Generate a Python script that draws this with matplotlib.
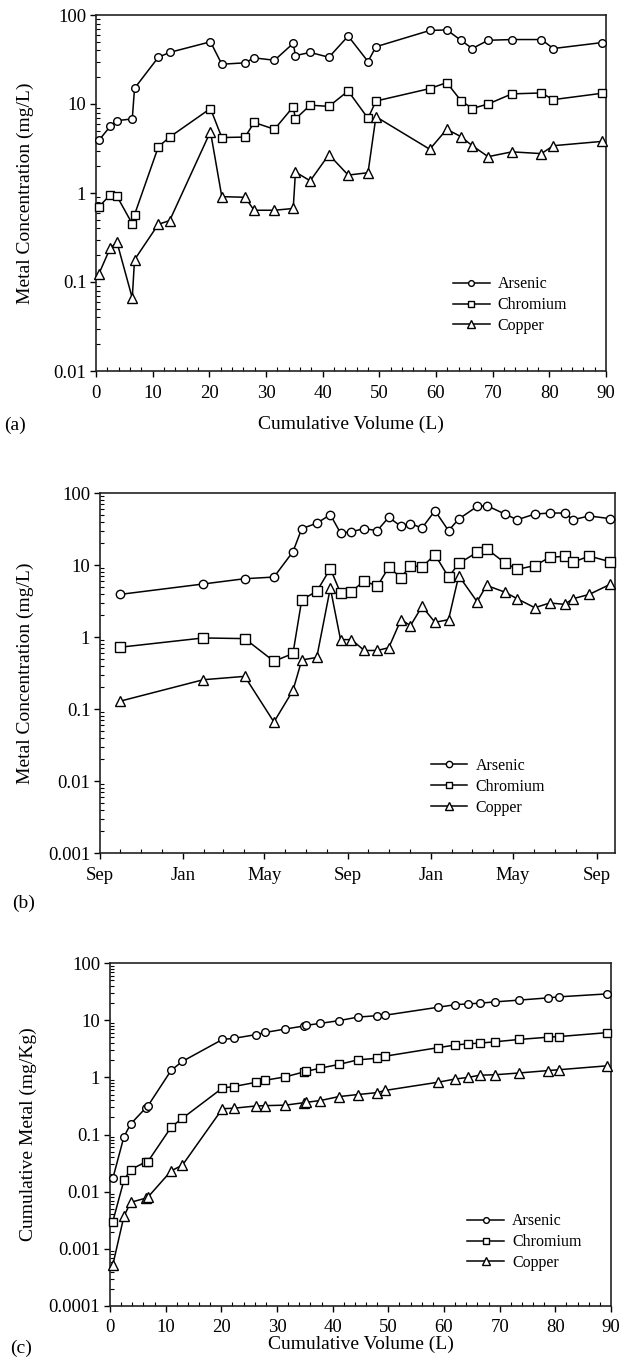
import matplotlib
matplotlib.use("Agg")
import matplotlib.pyplot as plt
import matplotlib.dates as mdates
from matplotlib.ticker import MultipleLocator, LogLocator, FuncFormatter, NullFormatter
import numpy as np
import datetime as dt

# ---------------- data ----------------
series_names = ["Arsenic", "Chromium", "Copper"]

# (a) and (c) cumulative volume (L)
volume_L = [0.5, 2.5, 3.7, 6.4, 6.8, 11.0, 13.0, 20.2, 22.2, 26.3, 27.9, 31.5, 34.8, 35.2,
            37.8, 41.1, 44.5, 48.0, 49.4, 58.9, 61.9, 64.4, 66.4, 69.2, 73.4, 78.6, 80.7, 89.3]

arsenic_conc = [3.9, 5.6, 6.5, 6.8, 15, 33.5, 38, 50, 28, 29, 33, 31, 48, 35,
                38, 33.5, 58, 30, 44, 67, 68, 52, 42, 52, 53, 53, 42, 49]
chromium_conc = [0.70, 0.95, 0.92, 0.45, 0.57, 3.3, 4.25, 8.9, 4.2, 4.25, 6.2, 5.2, 9.3, 6.8,
                 9.7, 9.4, 14, 6.9, 10.8, 14.9, 17.4, 10.9, 8.9, 10, 13, 13.3, 11.2, 13.2]
copper_conc = [0.123, 0.24, 0.28, 0.066, 0.178, 0.445, 0.49, 4.9, 0.91, 0.895, 0.64, 0.64, 0.67, 1.72,
               1.37, 2.7, 1.59, 1.69, 7.2, 3.1, 5.2, 4.3, 3.4, 2.56, 2.9, 2.77, 3.4, 3.8]

# (b) sampling dates
sample_dates = ["2002-09-30", "2003-01-31", "2003-04-02", "2003-05-15", "2003-06-12", "2003-06-25",
                "2003-07-17", "2003-08-06", "2003-08-21", "2003-09-06", "2003-09-25", "2003-10-14",
                "2003-10-31", "2003-11-18", "2003-12-02", "2003-12-19", "2004-01-07", "2004-01-27",
                "2004-02-11", "2004-03-09", "2004-03-23", "2004-04-19", "2004-05-07", "2004-06-02",
                "2004-06-24", "2004-07-16", "2004-07-28", "2004-08-21", "2004-09-21"]
arsenic_time = [3.9, 5.45, 6.45, 6.8, 15.3, 32, 38, 50, 27.8, 29, 32, 30, 46, 34.4, 37.5,
                32.7, 56.7, 30, 43.5, 65, 67, 51, 42.5, 51, 52.7, 52.7, 42.5, 48, 44]
chromium_time = [0.72, 0.97, 0.95, 0.46, 0.59, 3.3, 4.3, 8.9, 4.1, 4.25, 6.05, 5.05, 9.3, 6.7, 9.8,
                 9.4, 13.9, 6.8, 10.5, 15, 16.8, 10.7, 8.7, 9.8, 12.8, 13.2, 10.9, 13.3, 11.1]
copper_time = [0.128, 0.255, 0.284, 0.066, 0.181, 0.48, 0.52, 4.8, 0.92, 0.92, 0.65, 0.65, 0.71, 1.74, 1.44,
               2.66, 1.6, 1.74, 7.1, 3.1, 5.2, 4.2, 3.4, 2.55, 2.97, 2.84, 3.4, 3.9, 5.4]

# (c) cumulative metal (mg/Kg)
arsenic_cum = [0.017, 0.091, 0.152, 0.29, 0.315, 1.33, 1.9, 4.6, 4.8, 5.6, 6.1, 7.0, 7.9, 8.1,
               8.8, 9.8, 11.3, 12.0, 12.2, 16.8, 18.6, 19.3, 19.8, 20.9, 22.4, 24.5, 25.6, 28.8]
chromium_cum = [0.003, 0.0158, 0.0243, 0.033, 0.0335, 0.135, 0.192, 0.65, 0.69, 0.82, 0.89, 1.02, 1.24, 1.27,
                1.45, 1.68, 2.02, 2.16, 2.34, 3.3, 3.66, 3.87, 3.96, 4.19, 4.59, 5.03, 5.17, 6.05]
copper_cum = [0.00052, 0.0037, 0.0065, 0.0077, 0.008, 0.0232, 0.029, 0.283, 0.288, 0.316, 0.32, 0.326, 0.36, 0.365,
              0.393, 0.46, 0.50, 0.54, 0.59, 0.82, 0.93, 1.0, 1.09, 1.11, 1.19, 1.31, 1.36, 1.59]

# ---------------- style ----------------
plt.rcParams['font.family'] = ['Liberation Serif', 'DejaVu Serif']

W, H = 625, 1371
fig = plt.figure(figsize=(W / 100, H / 100), dpi=100)

def px_axes(l, r, t, b):
    return fig.add_axes([l / W, 1 - b / H, (r - l) / W, (b - t) / H])

ax_a = px_axes(96, 606, 15, 371)
ax_b = px_axes(100, 615, 493, 853)
ax_c = px_axes(110, 611, 963, 1306)

markers = ['o', 's', '^']
msizes = [5.5, 6.0, 7.0]

def fmt_log(v, pos):
    return '{:g}'.format(v)

def style_axes(ax, ymin, xpad=6):
    ax.set_yscale('log')
    ax.set_ylim(ymin, 100)
    ax.yaxis.set_major_locator(LogLocator(base=10, numticks=20))
    ax.yaxis.set_minor_locator(LogLocator(base=10, subs=np.arange(2, 10), numticks=20))
    ax.yaxis.set_major_formatter(FuncFormatter(fmt_log))
    ax.yaxis.set_minor_formatter(NullFormatter())
    for s in ax.spines.values():
        s.set_linewidth(1.2)
        s.set_color('#222222')
    ax.tick_params(which='major', direction='out', length=4, width=1.0, labelsize=13.5, pad=3,
                   top=False, right=False, colors='black')
    ax.tick_params(axis='x', which='major', pad=xpad)
    ax.tick_params(which='minor', direction='in', length=3, width=0.8, top=False, right=False)

def draw(ax, x, ys, ms_scale=1.0):
    for y, m, ms, name in zip(ys, markers, msizes, series_names):
        ax.plot(x, y, marker=m, markersize=ms * ms_scale, markerfacecolor='white',
                markeredgecolor='black', markeredgewidth=1.0, color='black', linewidth=1.1,
                label=name, clip_on=False, zorder=3)

def add_legend(ax, xa, ya):
    ax.legend(loc='center left', bbox_to_anchor=(xa, ya), frameon=False, fontsize=11.5,
              handlelength=2.3, handletextpad=0.5, labelspacing=0.3, borderpad=0,
              borderaxespad=0, markerscale=0.75)

# (a)
draw(ax_a, volume_L, [arsenic_conc, chromium_conc, copper_conc])
style_axes(ax_a, 0.01)
ax_a.set_xlim(0, 90)
ax_a.xaxis.set_major_locator(MultipleLocator(10))
ax_a.xaxis.set_minor_locator(MultipleLocator(2))
ax_a.set_xlabel('Cumulative Volume (L)', fontsize=14, labelpad=10)
ax_a.set_ylabel('Metal Concentration (mg/L)', fontsize=14)
ax_a.yaxis.set_label_coords(34 / W, 1 - 193 / H, transform=fig.transFigure)
add_legend(ax_a, 0.70, 0.185)

# (b)
dates = [dt.datetime.strptime(d, "%Y-%m-%d") for d in sample_dates]
draw(ax_b, dates, [arsenic_time, chromium_time, copper_time], ms_scale=1.1)
style_axes(ax_b, 0.001)
ax_b.set_xlim(dt.datetime(2002, 9, 1), dt.datetime(2004, 9, 28))
ax_b.xaxis.set_major_locator(mdates.MonthLocator(bymonth=[1, 5, 9]))
ax_b.xaxis.set_minor_locator(mdates.MonthLocator())
ax_b.xaxis.set_major_formatter(mdates.DateFormatter('%b'))
ax_b.set_ylabel('Metal Concentration (mg/L)', fontsize=14)
ax_b.yaxis.set_label_coords(34 / W, 1 - 673 / H, transform=fig.transFigure)
add_legend(ax_b, 0.642, 0.184)

# (c)
draw(ax_c, volume_L, [arsenic_cum, chromium_cum, copper_cum])
style_axes(ax_c, 0.0001, xpad=5)
ax_c.set_xlim(0, 90)
ax_c.xaxis.set_major_locator(MultipleLocator(10))
ax_c.xaxis.set_minor_locator(MultipleLocator(2))
ax_c.set_xlabel('Cumulative Volume (L)', fontsize=14, labelpad=0)
ax_c.set_ylabel('Cumulative Metal (mg/Kg)', fontsize=14)
ax_c.yaxis.set_label_coords(37 / W, 1 - 1134 / H, transform=fig.transFigure)
add_legend(ax_c, 0.713, 0.186)

# panel letters
fig.text(4 / W, 1 - 425 / H, '(a)', fontsize=14, va='center', ha='left')
fig.text(12 / W, 1 - 903 / H, '(b)', fontsize=14, va='center', ha='left')
fig.text(10 / W, 1 - 1348 / H, '(c)', fontsize=14, va='center', ha='left')

fig.savefig('out.png', dpi=100, facecolor='white')
